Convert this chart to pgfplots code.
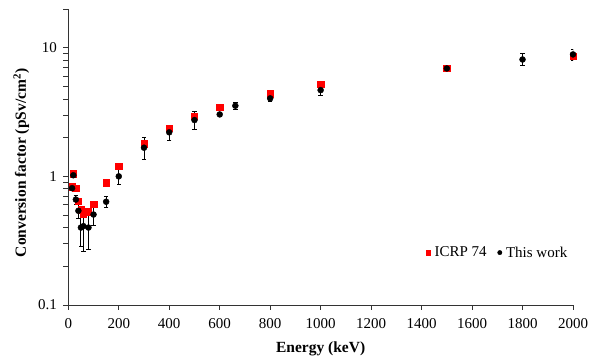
\documentclass[border=0pt]{standalone}
\usepackage{fontspec}
\setmainfont{Liberation Serif}
\usepackage{pgfplots}
\pgfplotsset{compat=1.18}
\begin{document}
\begin{tikzpicture}
\path[use as bounding box] (-68.3pt,-54pt) rectangle (529.7pt,305pt);
\begin{axis}[
  at={(0,0)}, anchor=south west,
  scale only axis, width=504.7pt, height=296pt,
  ymode=log, xmin=0, xmax=2000, ymin=0.1, ymax=20,
  axis x line*=bottom, axis y line*=left,
  axis line style={-, line width=0.8pt, black!80},
  xtick={0,200,...,2000},
  ytick={0.1,1,10}, yticklabels={0.1,1,10},
  minor ytick={0.2,0.3,0.4,0.5,0.6,0.7,0.8,0.9,2,3,4,5,6,7,8,9,20},
  tick align=outside, major tick length=5pt, minor tick length=5pt,
  every tick/.style={black!80, line width=0.8pt},
  /pgf/number format/assume math mode=true,
  /pgf/number format/1000 sep={},
  tick label style={font=\fontsize{15}{18}\selectfont},
  xticklabel style={yshift=-5pt},
  yticklabel style={xshift=-3pt},
  xlabel={\textbf{Energy (keV)}},
  ylabel={\textbf{Conversion factor (pSv/cm\textsuperscript{2})}},
  label style={font=\fontsize{15.5}{18}\selectfont},
  xlabel style={yshift=-6pt},
  ylabel style={at={(ticklabel cs:0.48)}, yshift=2pt},
  legend style={at={(0.993,0.177)}, anchor=east, draw=none, fill=none,
    font=\fontsize{15}{18}\selectfont, inner sep=0pt,
    /tikz/every odd column/.append style={column sep=2pt},
    /tikz/every even column/.append style={column sep=9pt}},
  legend columns=2,
  legend cell align=left,
]
\addplot[only marks, mark=square*, mark size=3.2pt, color=red,
  legend image post style={mark size=2.4pt}] coordinates {
(15,0.83) (20,1.05) (30,0.81) (40,0.64) (50,0.55) (60,0.51) (80,0.53)
(100,0.61) (150,0.89) (200,1.20) (300,1.80) (400,2.38) (500,2.93)
(600,3.44) (800,4.38) (1000,5.20) (1500,6.90) (2000,8.60)
};
\addlegendentry{ICRP 74}
\addplot[only marks, mark=*, mark size=3pt, color=black,
  legend image post style={mark size=2.2pt},
  error bars/.cd, y dir=both, y explicit,
  error bar style={line width=0.9pt, black},
  error mark options={rotate=90, mark size=2.2pt, line width=0.9pt, black}]
 coordinates {
(15,0.81) +- (0,0.03)
(20,1.02) +- (0,0.04)
(30,0.66) +- (0,0.05)
(40,0.54) +- (0,0.07)
(50,0.40) +- (0,0.115)
(60,0.41) +- (0,0.15)
(80,0.40) +- (0,0.13)
(100,0.505) +- (0,0.09)
(150,0.635) +- (0,0.065)
(200,1.00) +- (0,0.14)
(300,1.67) +- (0,0.32)
(400,2.20) +- (0,0.30)
(500,2.74) +- (0,0.44)
(600,3.03) +- (0,0.10)
(662,3.54) +- (0,0.20)
(800,4.04) +- (0,0.20)
(1000,4.68) +- (0,0.43)
(1500,6.90) +- (0,0.35)
(1800,8.10) +- (0,0.85)
(2000,8.87) +- (0,0.85)
};
\addlegendentry{This work}
\end{axis}
\end{tikzpicture}
\end{document}
